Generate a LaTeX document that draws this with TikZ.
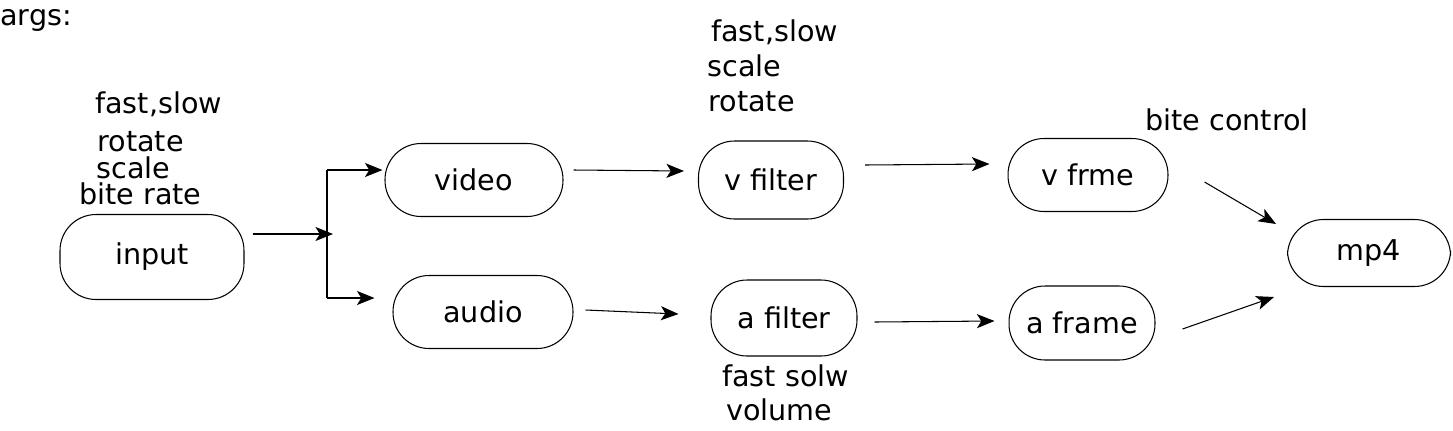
\documentclass[tikz,border=0pt]{standalone}
\usepackage{fontspec}
\setmainfont{DejaVu Sans}
\usepackage{tikz}
\usetikzlibrary{arrows.meta,calc}

\begin{document}
\begin{tikzpicture}[x=0.02cm,y=-0.02cm,
  blk/.style={draw,rounded corners=0.72cm,line width=0.6pt,font=\fontsize{16.3}{19}\selectfont,align=center},
  lbl/.style={anchor=west,inner sep=0pt,font=\fontsize{16.3}{19}\selectfont},
  arr/.style={-{Stealth[length=10pt,width=8pt,inset=2.5pt]},line width=0.6pt}]
  \useasboundingbox (0,0) rectangle (1453,430);
  % stages
  \node[blk,minimum width=3.68cm,minimum height=1.70cm] (input) at (152,257) {input};
  \node[blk,minimum width=3.56cm,minimum height=1.46cm] (video) at (474,180) {video};
  \node[blk,minimum width=3.60cm,minimum height=1.46cm] (audio) at (483,312) {audio};
  \node[blk,minimum width=2.90cm,minimum height=1.56cm] (vfilter) at (771,180) {v filter};
  \node[blk,minimum width=2.92cm,minimum height=1.52cm] (afilter) at (784,318) {a filter};
  \node[blk,minimum width=3.20cm,minimum height=1.46cm] (vfrme) at (1088,175) {v frme};
  \node[blk,minimum width=2.92cm,minimum height=1.48cm] (aframe) at (1082,323) {a frame};
  \node[blk,minimum width=3.26cm,minimum height=1.34cm] (mp4) at (1369,253) {mp4};
  % args
  \node[lbl] (args) at (0,20) {args:};
  \node[lbl] (infast) at (95,104) {fast,slow};
  \node[lbl] (inrot) at (97,142) {rotate};
  \node[lbl] (inscale) at (96,168) {scale};
  \node[lbl] (inbite) at (79,194) {bite rate};
  \node[lbl] (vffast) at (711,32) {fast,slow};
  \node[lbl] (vfscale) at (707,66) {scale};
  \node[lbl] (vfrot) at (708,102) {rotate};
  \node[lbl] (bitectl) at (1145,120) {bite control};
  \node[lbl] (affast) at (722,376) {fast solw};
  \node[lbl] (afvol) at (726,410) {volume};
  % split
  \coordinate (fork) at (333,234);
  \coordinate (ftop) at (327,170);
  \coordinate (fbot) at (327,298);
  \draw[arr] ($(input.east)+(8,-23)$) -- (fork);
  \draw[line width=0.6pt] (ftop) -- (fbot);
  \draw[arr] (ftop) -- ($(video.west)+(-2,-10)$);
  \draw[arr] (fbot) -- ($(audio.west)+(-18,-14)$);
  \foreach \s/\p/\t/\q in {video/{10,-10}/vfilter/{-14,-9},audio/{12,-2}/afilter/{-32,-4},
    vfilter/{21,-15}/vfrme/{-18,-11},afilter/{17,4}/aframe/{-14,-2},
    vfrme/{36,7}/mp4/{-11,-29},aframe/{27,6}/mp4/{-13,44}}{
    \draw[arr] ($(\s.east)+(\p)$) -- ($(\t.west)+(\q)$);}
\end{tikzpicture}
\end{document}
